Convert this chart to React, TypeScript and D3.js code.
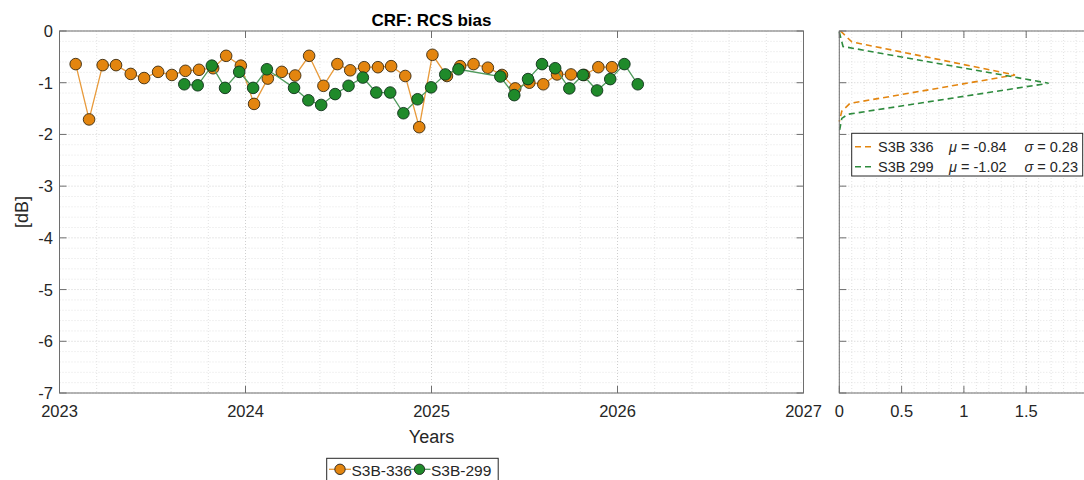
import React from "react";
import * as d3 from "d3";

// ---- data ----
const s336Years = [
  2023.087, 2023.159, 2023.232, 2023.304, 2023.383, 2023.455, 2023.530, 2023.604, 2023.677, 2023.750,
  2023.826, 2023.896, 2023.975, 2024.046, 2024.120, 2024.195, 2024.267, 2024.342, 2024.419, 2024.494,
  2024.563, 2024.638, 2024.712, 2024.783, 2024.859, 2024.934, 2025.005, 2025.083, 2025.154, 2025.226,
  2025.303, 2025.379, 2025.450, 2025.526, 2025.601, 2025.675, 2025.750, 2025.821, 2025.897, 2025.970,
];
const s336Values = [
  -0.64, -1.71, -0.66, -0.66, -0.83, -0.91, -0.79, -0.85, -0.77, -0.75,
  -0.72, -0.48, -0.67, -1.41, -0.92, -0.79, -0.86, -0.48, -1.06, -0.64,
  -0.76, -0.70, -0.70, -0.68, -0.87, -1.86, -0.46, -0.87, -0.68, -0.64,
  -0.71, -0.85, -1.11, -1.00, -1.03, -0.84, -0.84, -0.85, -0.70, -0.70,
];
const s299Years = [
  2023.671, 2023.743, 2023.819, 2023.890, 2023.966, 2024.041, 2024.115, 2024.261, 2024.338, 2024.407,
  2024.482, 2024.554, 2024.631, 2024.703, 2024.778, 2024.849, 2024.925, 2024.998, 2025.074, 2025.145,
  2025.370, 2025.445, 2025.519, 2025.594, 2025.665, 2025.741, 2025.814, 2025.890, 2025.961, 2026.037,
  2026.109,
];
const s299Values = [
  -1.03, -1.05, -0.67, -1.10, -0.79, -1.10, -0.74, -1.10, -1.34, -1.43,
  -1.22, -1.06, -0.90, -1.19, -1.19, -1.59, -1.32, -1.09, -0.84, -0.74,
  -0.88, -1.24, -0.93, -0.64, -0.72, -1.11, -0.85, -1.15, -0.93, -0.64,
  -1.03,
];
// Gaussian fit curves (pdf value, dB)
const pdf336X = [0.01, 0.10, 1.41, 0.086, 0.02, 0.0];
const pdf336Y = [0.0, -0.21, -0.85, -1.40, -1.55, -1.75];
const pdf299X = [0.0, 0.03, 1.68, 0.07, 0.02, 0.0];
const pdf299Y = [-0.02, -0.30, -1.01, -1.61, -1.69, -1.95];

const yearTicks = [2023, 2024, 2025, 2026, 2027];
const dbTicks = [0, -1, -2, -3, -4, -5, -6, -7];
const pdfTicks = [0, 0.5, 1, 1.5, 2];
const legendStats = [
  { name: "S3B 336", mu: "-0.84", sigma: "0.28" },
  { name: "S3B 299", mu: "-1.02", sigma: "0.23" },
];
const seriesNames = ["S3B-336", "S3B-299"];

// ---- style ----
const ORANGE = "#e3850f";
const ORANGE_LINE = "#e89a3a";
const GREEN = "#1f8a2a";
const GREEN_LINE = "#4f9a5c";
const TXT = "#262626";
const AX = "#6e6e6e";
const FONT = "'Liberation Sans', Arial, Helvetica, sans-serif";

export default function App() {
  const W = 1084, H = 480;
  const xL = d3.scaleLinear().domain([2023, 2027]).range([59.5, 803.5]);
  const y = d3.scaleLinear().domain([-7, 0]).range([393, 31]);
  const xR = d3.scaleLinear().domain([0, 2]).range([839.3, 1088.5]);

  const minorYears = d3.range(2023, 2027.001, 0.2).filter((v) => Math.abs(v - Math.round(v)) > 0.01);
  const minorDb = d3.range(-7, 0.001, 0.2).filter((v) => Math.abs(v - Math.round(v)) > 0.01);
  const minorPdf = d3.range(0, 2.001, 0.1).filter((v) => Math.abs(v * 2 - Math.round(v * 2)) > 0.01);

  const line336 = d3.line<number>().x((_, i) => xL(s336Years[i])).y((d) => y(d));
  const line299 = d3.line<number>().x((_, i) => xL(s299Years[i])).y((d) => y(d));
  const pdfLine336 = d3.line<number>().x((d) => xR(d)).y((_, i) => y(pdf336Y[i]));
  const pdfLine299 = d3.line<number>().x((d) => xR(d)).y((_, i) => y(pdf299Y[i]));

  const [y0, y1] = [y(0), y(-7)];
  const tick = 7;

  const gridV = (x: number, key: string, major: boolean) => (
    <line key={key} x1={x} x2={x} y1={y0} y2={y1} stroke={major ? "#cfcfcf" : "#e3e3e3"} strokeWidth={1} strokeDasharray="1,2" />
  );
  const gridH = (yy: number, xa: number, xb: number, key: string, major: boolean) => (
    <line key={key} x1={xa} x2={xb} y1={yy} y2={yy} stroke={major ? "#cfcfcf" : "#e3e3e3"} strokeWidth={1} strokeDasharray="1,2" />
  );

  const LR = [xL(2023), xL(2027)];
  const RR = [xR(0), xR(2)];

  return (
    <svg width={W} height={H} style={{ position: "absolute", left: 0, top: 0, background: "#fff" }} fontFamily={FONT}>
      <rect x={0} y={0} width={W} height={H} fill="#fff" />
      {/* ---------- left panel grid ---------- */}
      <g>
        {minorYears.map((v, i) => gridV(xL(v), "mx" + i, false))}
        {minorDb.map((v, i) => gridH(y(v), LR[0], LR[1], "my" + i, false))}
        {yearTicks.map((v, i) => gridV(xL(v), "Mx" + i, true))}
        {dbTicks.map((v, i) => gridH(y(v), LR[0], LR[1], "My" + i, true))}
      </g>
      {/* ---------- right panel grid ---------- */}
      <g>
        {minorPdf.map((v, i) => gridV(xR(v), "rmx" + i, false))}
        {minorDb.map((v, i) => gridH(y(v), RR[0], RR[1], "rmy" + i, false))}
        {pdfTicks.map((v, i) => gridV(xR(v), "rMx" + i, true))}
        {dbTicks.map((v, i) => gridH(y(v), RR[0], RR[1], "rMy" + i, true))}
      </g>

      {/* ---------- series ---------- */}
      <path d={line336(s336Values) || ""} fill="none" stroke={ORANGE_LINE} strokeWidth={1.3} />
      {s336Values.map((v, i) => (
        <circle key={"o" + i} cx={xL(s336Years[i])} cy={y(v)} r={5.8} fill={ORANGE} stroke="#3a2a10" strokeWidth={0.9} />
      ))}
      <path d={line299(s299Values) || ""} fill="none" stroke={GREEN_LINE} strokeWidth={1.3} />
      {s299Values.map((v, i) => (
        <circle key={"g" + i} cx={xL(s299Years[i])} cy={y(v)} r={5.8} fill={GREEN} stroke="#10301a" strokeWidth={0.9} />
      ))}

      {/* ---------- pdf curves ---------- */}
      <path d={pdfLine336(pdf336X) || ""} fill="none" stroke={ORANGE} strokeWidth={1.6} strokeDasharray="6,4" />
      <path d={pdfLine299(pdf299X) || ""} fill="none" stroke="#2e8b3e" strokeWidth={1.6} strokeDasharray="6,4" />

      {/* ---------- left axes box & ticks ---------- */}
      <rect x={LR[0]} y={y0} width={LR[1] - LR[0]} height={y1 - y0} fill="none" stroke={AX} strokeWidth={1} />
      {yearTicks.map((v, i) => (
        <g key={"xt" + i}>
          <line x1={xL(v)} x2={xL(v)} y1={y1} y2={y1 - tick} stroke={AX} />
          <line x1={xL(v)} x2={xL(v)} y1={y0} y2={y0 + tick} stroke={AX} />
          <text x={xL(v)} y={417} textAnchor="middle" fontSize={16.5} fill={TXT}>{v}</text>
        </g>
      ))}
      {dbTicks.map((v, i) => (
        <g key={"yt" + i}>
          <line x1={LR[0]} x2={LR[0] + tick} y1={y(v)} y2={y(v)} stroke={AX} />
          <line x1={LR[1]} x2={LR[1] - tick} y1={y(v)} y2={y(v)} stroke={AX} />
          <text x={53} y={y(v) + 6} textAnchor="end" fontSize={16.5} fill={TXT}>{v}</text>
        </g>
      ))}
      <text x={(LR[0] + LR[1]) / 2} y={26} textAnchor="middle" fontSize={17} fontWeight="bold" fill="#000">CRF: RCS bias</text>
      <text x={(LR[0] + LR[1]) / 2} y={443} textAnchor="middle" fontSize={18} fill={TXT}>Years</text>
      <text transform={`translate(28,${(y0 + y1) / 2}) rotate(-90)`} textAnchor="middle" fontSize={18} fill={TXT}>[dB]</text>

      {/* ---------- right axes box & ticks ---------- */}
      <rect x={RR[0]} y={y0} width={RR[1] - RR[0]} height={y1 - y0} fill="none" stroke={AX} strokeWidth={1} />
      {pdfTicks.map((v, i) => (
        <g key={"rxt" + i}>
          <line x1={xR(v)} x2={xR(v)} y1={y1} y2={y1 - tick} stroke={AX} />
          <line x1={xR(v)} x2={xR(v)} y1={y0} y2={y0 + tick} stroke={AX} />
          <text x={xR(v)} y={417} textAnchor="middle" fontSize={16.5} fill={TXT}>{v}</text>
        </g>
      ))}
      {dbTicks.map((v, i) => (
        <g key={"ryt" + i}>
          <line x1={RR[0]} x2={RR[0] + tick} y1={y(v)} y2={y(v)} stroke={AX} />
        </g>
      ))}

      {/* ---------- right legend ---------- */}
      <g>
        <rect x={851.7} y={133.3} width={231} height={42.7} fill="#fff" stroke="#262626" strokeWidth={1} />
        {legendStats.map((s, i) => {
          const cy = 146.7 + i * 20;
          const col = i === 0 ? ORANGE : "#2e8b3e";
          return (
            <g key={"rl" + i} fontSize={14.5} fill={TXT}>
              <line x1={855} x2={874} y1={cy} y2={cy} stroke={col} strokeWidth={1.6} strokeDasharray="6,4" />
              <text x={878} y={cy + 5.5}>{s.name}</text>
              <text x={949} y={cy + 5.5}><tspan fontStyle="italic">μ</tspan> = {s.mu}</text>
              <text x={1078} y={cy + 5.5} textAnchor="end"><tspan fontStyle="italic">σ</tspan> = {s.sigma}</text>
            </g>
          );
        })}
      </g>

      {/* ---------- bottom legend ---------- */}
      <g>
        <rect x={326.7} y={458.3} width={171.5} height={30} fill="#fff" stroke="#262626" strokeWidth={1} />
        {seriesNames.map((n, i) => {
          const mx = i === 0 ? 340 : 419.5;
          const col = i === 0 ? ORANGE : GREEN;
          const lc = i === 0 ? ORANGE_LINE : GREEN_LINE;
          return (
            <g key={"bl" + i}>
              <line x1={mx - 11} x2={mx + 11} y1={469.3} y2={469.3} stroke={lc} strokeWidth={1.3} />
              <circle cx={mx} cy={469.3} r={5.2} fill={col} stroke="#222" strokeWidth={0.9} />
              <text x={mx + 11.5} y={475.5} fontSize={15.5} fill={TXT}>{n}</text>
            </g>
          );
        })}
      </g>
    </svg>
  );
}
